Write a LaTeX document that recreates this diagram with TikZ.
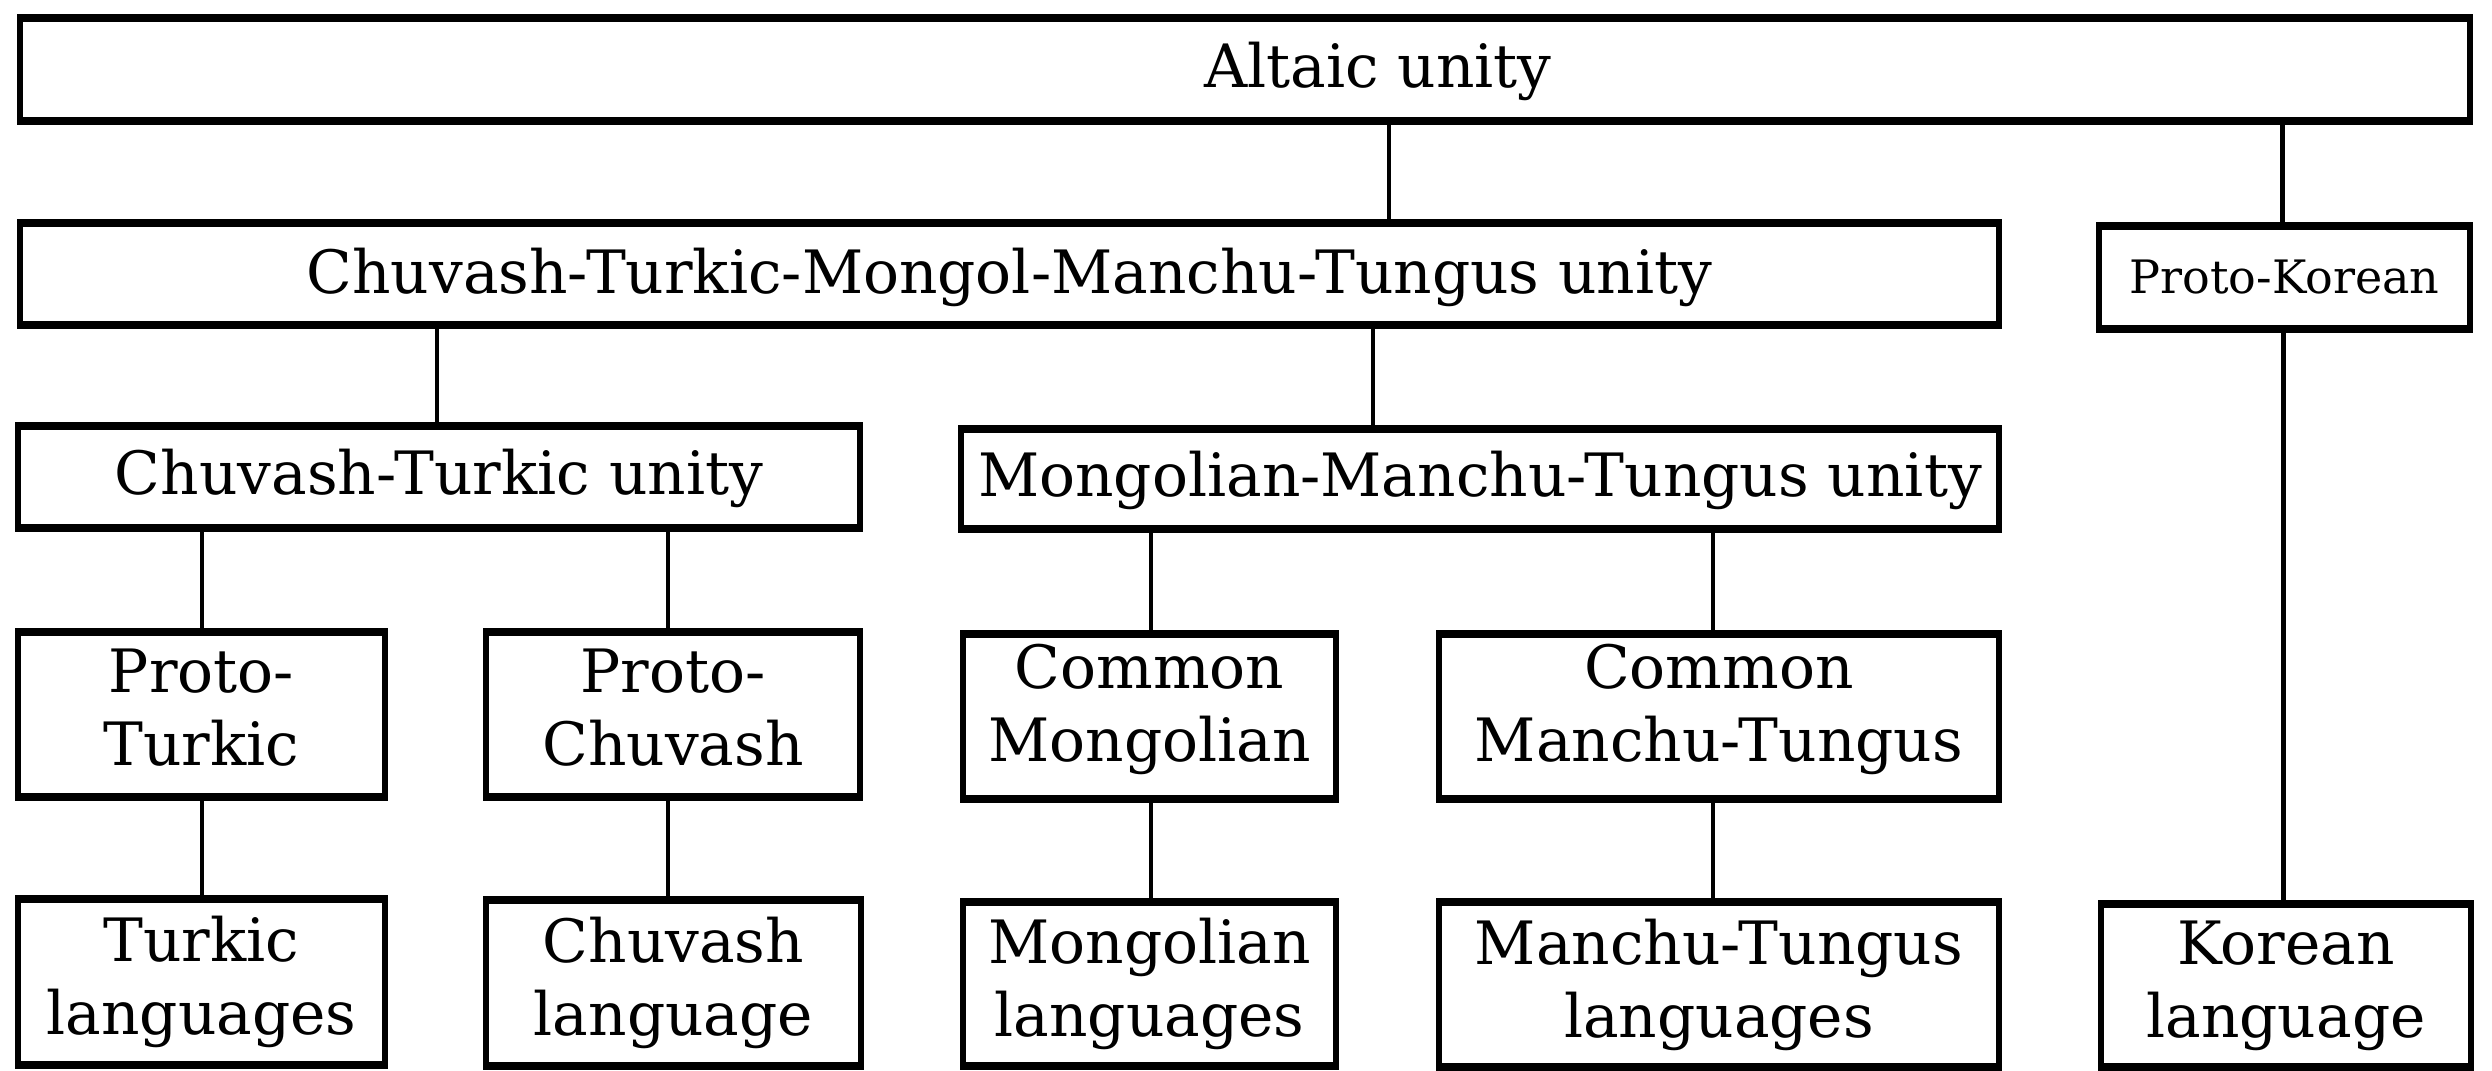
\documentclass[tikz,border=0pt]{standalone}
\usepackage{fontspec}
\setmainfont{DejaVu Serif}
\usetikzlibrary{fit}
\newcommand\mainfs{\fontsize{17.0pt}{20.8pt}\selectfont}
\newcommand\smallfs{\fontsize{13.1pt}{15pt}\selectfont}
\begin{document}
\begin{tikzpicture}[x=0.01cm,y=-0.01cm,
  box/.style={draw,line width=1.5pt,outer sep=0pt,inner sep=0pt},
  txt/.style={inner sep=0pt,outer sep=0pt,align=center,font=\mainfs},
  hline/.style={line width=2.4pt,shorten <=-0.75pt,shorten >=-0.75pt},
  conn/.style={line width=1.4pt}]
\useasboundingbox[fill=white] (0,0) rectangle (2492,1071);
% boxes
\node[box, fit={(20,18)(2470,121)}] (altaic) {};
\node[box, fit={(20,223)(1999,325)}] (ctmmt) {};
\node[box, fit={(2099,226)(2470,329)}] (pk) {};
\node[box, fit={(18,426)(860,528)}] (ct) {};
\node[box, fit={(961,429)(1999,529)}] (mmt) {};
\node[box, fit={(18,632)(385,797)}] (pt) {};
\node[box, fit={(486,632)(860,797)}] (pc) {};
\node[box, fit={(963,634)(1336,799)}] (cm) {};
\node[box, fit={(1439,634)(1999,799)}] (cmt) {};
\node[box, fit={(18,899)(385,1065)}] (tl) {};
\node[box, fit={(486,900)(861,1066)}] (cl) {};
\node[box, fit={(963,902)(1336,1066)}] (ml) {};
\node[box, fit={(1439,902)(1999,1067)}] (mtl) {};
\node[box, fit={(2101,904)(2471,1067)}] (kl) {};
% texts
\node[txt] (altaictext) at (1378,71) {Altaic unity};
\node[txt] (ctmmttext) at ([yshift=-1pt]ctmmt.center) {Chuvash-Turkic-Mongol-Manchu-Tungus unity};
\node[txt, font=\smallfs] (pktext) at (pk.center) {Proto-Korean};
\node[txt] (cttext) at ([yshift=-0.5pt]ct.center) {Chuvash-Turkic unity};
\node[txt] (mmttext) at ([yshift=-0.5pt]mmt.center) {Mongolian-Manchu-Tungus unity};
\node[txt] (pttext) at ([yshift=2pt]pt.center) {Proto-\\Turkic};
\node[txt] (pctext) at ([yshift=2pt]pc.center) {Proto-\\Chuvash};
\node[txt] (cmtext) at ([yshift=2pt]cm.center) {Common\\Mongolian};
\node[txt] (cmttext) at ([yshift=2pt]cmt.center) {Common\\Manchu-Tungus};
\node[txt] (tltext) at (tl.center) {Turkic\\languages};
\node[txt] (cltext) at (cl.center) {Chuvash\\language};
\node[txt] (mltext) at (ml.center) {Mongolian\\languages};
\node[txt] (mtltext) at (mtl.center) {Manchu-Tungus\\languages};
\node[txt] (kltext) at (kl.center) {Korean\\language};
% thicker horizontal borders
\foreach \n in {altaic,ctmmt,pk,ct,mmt,pt,pc,cm,cmt,tl,cl,ml,mtl,kl}{
  \draw[hline] (\n.north west) -- (\n.north east);
  \draw[hline] (\n.south west) -- (\n.south east);
}
% connectors
\draw[conn] (1389,0 |- altaic.south) -- (1389,0 |- ctmmt.north);
\draw[conn] (2282,0 |- altaic.south) -- (2282,0 |- pk.north);
\draw[conn] (437,0 |- ctmmt.south) -- (437,0 |- ct.north);
\draw[conn] (1373,0 |- ctmmt.south) -- (1373,0 |- mmt.north);
\draw[conn] (202,0 |- ct.south) -- (202,0 |- pt.north);
\draw[conn] (668,0 |- ct.south) -- (668,0 |- pc.north);
\draw[conn] (1151,0 |- mmt.south) -- (1151,0 |- cm.north);
\draw[conn] (1713,0 |- mmt.south) -- (1713,0 |- cmt.north);
\draw[conn] (202,0 |- pt.south) -- (202,0 |- tl.north);
\draw[conn] (668,0 |- pc.south) -- (668,0 |- cl.north);
\draw[conn] (1151,0 |- cm.south) -- (1151,0 |- ml.north);
\draw[conn] (1713,0 |- cmt.south) -- (1713,0 |- mtl.north);
\draw[conn] (2283,0 |- pk.south) -- (2283,0 |- kl.north);
\end{tikzpicture}
\end{document}
